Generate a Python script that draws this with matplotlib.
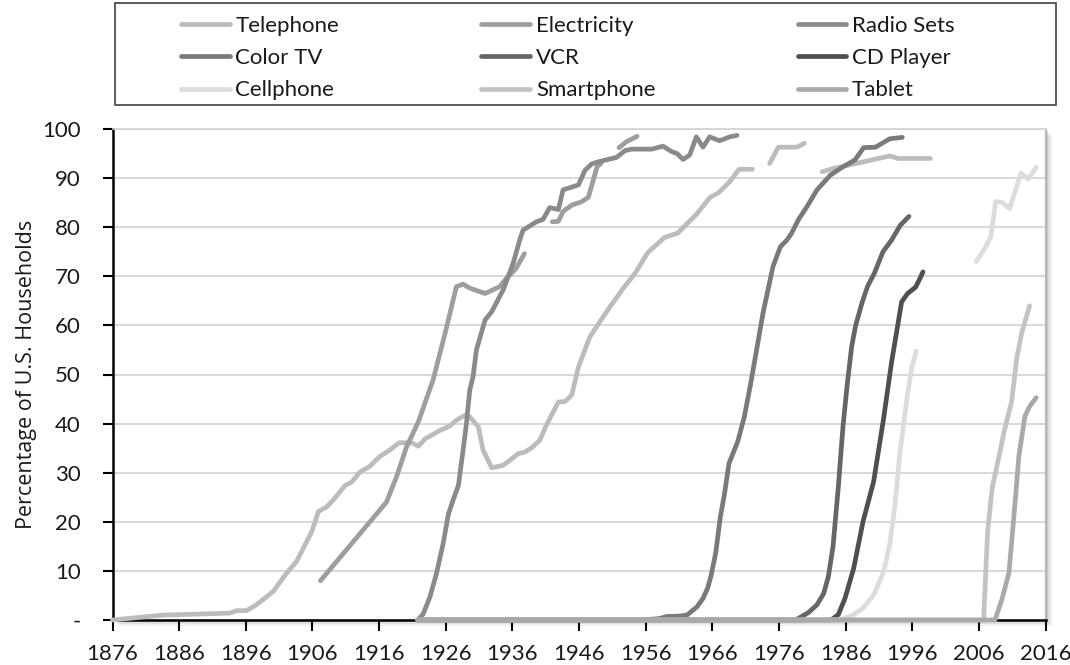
import numpy as np
import matplotlib.pyplot as plt
from matplotlib.patches import Rectangle

nan = np.nan

# values (year, % of US households); nan = gap
tel_year = [1876, 1883.6, 1893.6, 1894.6, 1896.1, 1897.6, 1900.1, 1902.1, 1903.6, 1905.9,
            1906.9, 1908.1, 1909.1, 1910.9, 1911.9, 1913.1, 1914.6, 1916.1, 1917.6, 1919.0,
            1920.9, 1921.9, 1922.9, 1924.1, 1925.1, 1926.6, 1927.6, 1928.9, 1929.6, 1930.9,
            1931.6, 1932.9, 1934.6, 1935.6, 1936.9, 1937.9, 1939.1, 1940.1, 1941.1, 1942.9,
            1943.9, 1944.9, 1945.9, 1947.6, 1949.1, 1950.6, 1952.6, 1954.4, 1956.3, 1958.8,
            1960.8, 1963.6, 1965.6, 1966.9, 1968.7, 1970.0, 1972.0, 1973.3, 1974.6, 1975.9,
            1978.7, 1979.8, 1981.2, 1982.5, 1984.3, 1992.6, 1993.9, 1998.7]
tel_pct = [0, 1.0, 1.4, 1.9, 1.9, 3.1, 5.8, 9.5, 11.9, 18.0,
           22.1, 23.0, 24.4, 27.4, 28.1, 30.1, 31.3, 33.3, 34.6, 36.1,
           36.1, 35.4, 36.9, 37.8, 38.6, 39.5, 40.7, 41.7, 41.4, 39.3,
           34.6, 31.0, 31.5, 32.5, 33.9, 34.2, 35.3, 36.6, 39.7, 44.4,
           44.5, 45.8, 51.5, 57.6, 60.7, 63.7, 67.5, 70.6, 74.8, 77.9,
           78.8, 82.6, 86.0, 87.0, 89.4, 91.8, 91.8, nan, 93.0, 96.3,
           96.3, 97.1, nan, 91.3, 92.0, 94.5, 94.0, 94.0]

ele_year = [1907.2, 1917.1, 1918.6, 1920.1, 1921.9, 1924.1, 1925.9, 1927.6, 1928.6, 1929.6,
            1931.9, 1934.1, 1935.1, 1936.5, 1937.8, 1939.8, 1942.0, 1942.9, 1943.6, 1944.9,
            1946.4, 1947.4, 1948.7, 1949.3, 1950.5, 1952.0, 1953.1, 1954.7]
ele_pct = [8.0, 24.0, 29.1, 35.2, 40.4, 48.9, 58.4, 67.9, 68.4, 67.6,
           66.5, 67.9, 69.6, 71.5, 74.6, nan, 81.1, 81.2, 83.2, 84.5,
           85.2, 86.1, 92.3, 93.0, nan, 96.2, 97.4, 98.5]

rad_year = [1921.8, 1922.6, 1923.6, 1924.6, 1925.6, 1926.4, 1927.1, 1927.9, 1928.6, 1929.1,
            1929.6, 1930.1, 1930.6, 1931.9, 1932.9, 1934.6, 1936.1, 1937.1, 1937.6, 1939.6,
            1940.6, 1941.6, 1942.9, 1943.6, 1945.9, 1946.9, 1947.9, 1949.1, 1951.6, 1952.9,
            1953.9, 1956.9, 1958.6, 1959.9, 1960.7, 1961.6, 1962.6, 1963.6, 1964.6, 1965.6,
            1967.1, 1968.6, 1969.7]
rad_pct = [0, 1.2, 4.6, 9.4, 15.5, 21.6, 24.4, 27.4, 34.6, 40.0,
           46.8, 49.6, 55.0, 61.1, 62.8, 67.2, 72.6, 77.4, 79.4, 81.1,
           81.6, 84.0, 83.6, 87.6, 88.6, 91.6, 92.9, 93.4, 94.2, 95.6,
           95.9, 95.9, 96.5, 95.4, 95.0, 93.8, 94.7, 98.4, 96.3, 98.4,
           97.6, 98.4, 98.7]

ctv_year = [1921.8, 1955.5, 1958.1, 1959.1, 1961.1, 1962.2, 1963.7, 1964.6, 1965.3, 1965.8,
            1966.5, 1967.2, 1967.8, 1968.5, 1969.8, 1970.8, 1971.8, 1972.2, 1973.6, 1975.1,
            1976.2, 1977.2, 1977.9, 1978.9, 1980.2, 1981.7, 1983.7, 1985.6, 1987.4, 1988.7,
            1990.5, 1992.6, 1994.5]
ctv_pct = [0, 0, 0.3, 0.7, 0.8, 1.0, 2.7, 4.4, 6.5, 9.0,
           13.6, 21.0, 25.5, 31.9, 36.3, 41.4, 48.5, 51.6, 62.5, 72.0,
           76.0, 77.4, 78.8, 81.5, 84.2, 87.6, 90.6, 92.3, 93.7, 96.2,
           96.3, 98.0, 98.3]

vcr_year = [1921.8, 1978.5, 1980.4, 1981.7, 1982.7, 1983.4, 1984.1, 1984.9, 1985.6, 1986.2,
            1986.9, 1987.5, 1988.5, 1989.3, 1990.3, 1991.6, 1992.9, 1994.2, 1995.5]
vcr_pct = [0, 0, 1.5, 3.1, 5.4, 8.8, 14.9, 27.1, 39.4, 47.5,
           55.7, 60.0, 64.8, 68.0, 70.6, 75.0, 77.4, 80.4, 82.2]

cd_year = [1921.8, 1983.8, 1984.9, 1985.9, 1987.2, 1988.6, 1990.2, 1991.7, 1992.9, 1994.4,
           1995.3, 1996.5, 1997.2, 1997.6]
cd_pct = [0, 0, 1.1, 4.4, 10.5, 20.0, 28.2, 41.1, 52.6, 64.8,
          66.5, 67.8, 69.7, 70.9]

cell_year = [1921.8, 1985.1, 1987.1, 1988.6, 1990.2, 1991.7, 1992.6, 1993.4, 1994.1, 1995.2,
             1995.9, 1996.6, 2001.0, 2005.6, 2006.8, 2007.8, 2008.5, 2009.4, 2010.6, 2011.4,
             2012.3, 2013.4, 2014.6]
cell_pct = [0, 0, 1.0, 2.4, 5.1, 9.8, 15.3, 23.4, 33.6, 45.2,
            51.3, 54.8, nan, 73.0, 75.5, 78.1, 85.2, 85.1, 83.8, 87.2,
            91.0, 89.8, 92.2]

sm_year = [1921.8, 2006.7, 2007.3, 2008.0, 2008.8, 2009.8, 2010.9, 2011.7, 2012.4, 2013.6]
sm_pct = [0, 0, 18.0, 27.0, 32.0, 38.5, 44.5, 53.5, 58.4, 64.0]

tab_year = [1921.8, 2008.4, 2009.4, 2010.5, 2011.3, 2012.0, 2012.9, 2013.6, 2014.6]
tab_pct = [0, 0, 4.0, 9.6, 22.0, 33.5, 41.5, 43.5, 45.3]

names = ['Telephone', 'Electricity', 'Radio Sets', 'Color TV', 'VCR', 'CD Player',
         'Cellphone', 'Smartphone', 'Tablet']
years = [tel_year, ele_year, rad_year, ctv_year, vcr_year, cd_year, cell_year, sm_year, tab_year]
pcts = [tel_pct, ele_pct, rad_pct, ctv_pct, vcr_pct, cd_pct, cell_pct, sm_pct, tab_pct]
colors = ['#bcbcbc', '#9e9e9e', '#8a8a8a', '#7a7a7a', '#666666', '#4f4f4f',
          '#dcdcdc', '#c3c3c3', '#a9a9a9']

plt.rcParams['font.family'] = ['Lato', 'DejaVu Sans']

W, H = 1070, 665
fig = plt.figure(figsize=(W / 100, H / 100), dpi=100)
x0, x1, ytop, ybot = 112.5, 1045.6, 129, 620
rect = [x0 / W, 1 - ybot / H, (x1 - x0) / W, (ybot - ytop) / H]

# soft shadow behind plot area
for d, a in [(6, 0.05), (4, 0.07), (2, 0.1)]:
    fig.add_artist(Rectangle((rect[0] + d / W, rect[1] - d / H), rect[2], rect[3],
                             transform=fig.transFigure, color='k', alpha=a, lw=0, zorder=-5))

ax = fig.add_axes(rect)
ax.set_facecolor('white')

lines = []
for n, x, y, c in zip(names, years, pcts, colors):
    ln, = ax.plot(x, y, color=c, lw=3.4, solid_capstyle='round', solid_joinstyle='round',
                  clip_on=False, zorder=3, label=n)
    lines.append(ln)

ax.set_xlim(1876, 2016)
ax.set_ylim(0, 100)
ax.set_xticks(range(1876, 2017, 10))
ax.set_yticks(range(0, 101, 10))
ax.set_yticklabels(['-'] + [str(v) for v in range(10, 101, 10)])
ax.grid(axis='y', color='#d2d2d2', lw=1.2)
ax.set_axisbelow(True)
ax.tick_params(axis='x', direction='out', length=8, width=1.5, color='black', pad=9,
               labelsize=16, labelcolor='#1a1a1a')
ax.tick_params(axis='y', direction='out', length=7, width=1.5, color='black', pad=16,
               labelsize=16, labelcolor='#1a1a1a')
for s in ['left', 'bottom']:
    ax.spines[s].set_color('black')
    ax.spines[s].set_linewidth(1.8)
ax.spines['top'].set_color('#d2d2d2')
ax.spines['top'].set_linewidth(1.2)
ax.spines['right'].set_color('#b8b8b8')
ax.spines['right'].set_linewidth(1.6)

ax.set_ylabel('Percentage of U.S. Households', fontsize=15.5, family=['Open Sans', 'DejaVu Sans'],
              color='#1a1a1a')
ax.yaxis.set_label_coords(-0.081, 0.5)

# legend: row-major order in 3 columns
order = [0, 3, 6, 1, 4, 7, 2, 5, 8]
leg = fig.legend([lines[i] for i in order], [names[i] for i in order],
                 loc='upper left', bbox_to_anchor=(181 / W, 1 - 16 / H), ncol=3,
                 frameon=False, fontsize=16, handlelength=2.2, handletextpad=0.25,
                 columnspacing=6.4, labelspacing=0.55, borderpad=0, borderaxespad=0)
for t in leg.get_texts():
    t.set_color('#1a1a1a')
fig.add_artist(Rectangle((115 / W, 1 - 105 / H), 941 / W, 102 / H, transform=fig.transFigure,
                         fill=False, ec='#404040', lw=1.2))

fig.savefig('out.png', dpi=100)
